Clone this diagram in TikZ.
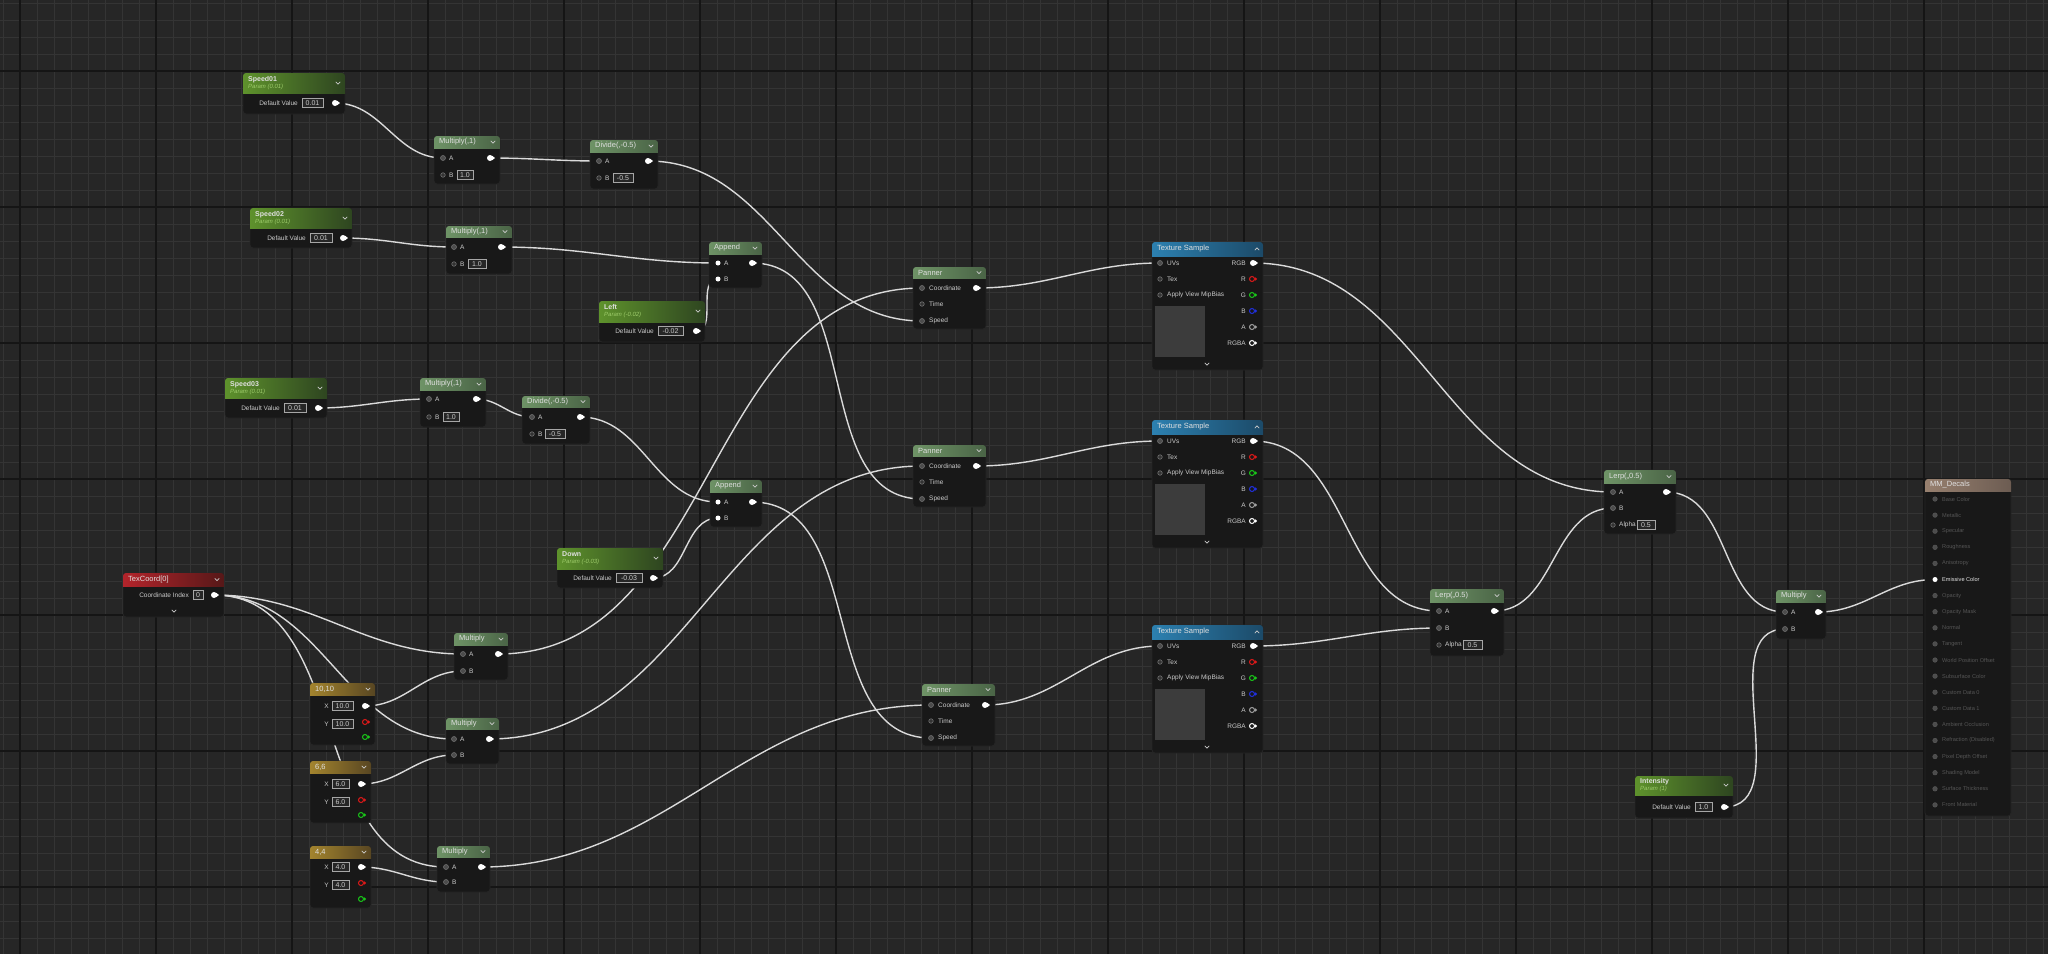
\documentclass[tikz,border=0pt]{standalone}
\usepackage{fontspec}
\setmainfont{Liberation Sans}
\usetikzlibrary{calc}
\definecolor{bgc}{HTML}{262626}
\definecolor{gmin}{HTML}{343434}
\definecolor{gmaj}{HTML}{151515}
\definecolor{bodyc}{HTML}{181818}
\definecolor{hpL}{HTML}{5E922C}
\definecolor{hpR}{HTML}{2E4520}
\definecolor{hmL}{HTML}{6E9366}
\definecolor{hmR}{HTML}{4A6446}
\definecolor{htL}{HTML}{2C80B0}
\definecolor{htR}{HTML}{1C4A68}
\definecolor{hcL}{HTML}{B3242B}
\definecolor{hcR}{HTML}{561818}
\definecolor{hkL}{HTML}{A3842E}
\definecolor{hkR}{HTML}{584622}
\definecolor{hoL}{HTML}{97806F}
\definecolor{hoR}{HTML}{6C5C52}
\definecolor{psub}{HTML}{9DCB6A}
\definecolor{lblc}{HTML}{CACACA}
\definecolor{wirec}{HTML}{DADADA}
\definecolor{pinc}{HTML}{4C4C4C}
\definecolor{pinr}{HTML}{707070}
\definecolor{dimc}{HTML}{555555}
\definecolor{prevc}{HTML}{3C3C3C}
\definecolor{ured}{HTML}{E01818}
\definecolor{ugreen}{HTML}{18C818}
\definecolor{ublue}{HTML}{2030E0}
\definecolor{ugrey}{HTML}{A0A0A0}

\pgfdeclarelayer{bg}\pgfdeclarelayer{wires}\pgfsetlayers{bg,wires,main}
\newcounter{lbc}

\tikzset{
 nbody/.style={draw=black!85, fill=bodyc, rounded corners=3pt, inner sep=0pt, outer sep=0pt, line width=.8pt},
 htitle/.style={inner sep=0pt, align=left, text=white!88!black, font=\fontsize{7.5}{8.5}\selectfont},
 lbl/.style={inner sep=0pt, text=lblc, font=\fontsize{6.5}{7.5}\selectfont},
 vb/.style={draw=white!65!black, line width=.5pt, fill=black!85, minimum height=9pt, inner sep=0pt, text=lblc, font=\fontsize{7}{8}\selectfont},
 pcon/.style={circle, fill=pinc, draw=pinr, line width=.6pt, minimum size=5pt, inner sep=0pt},
 popen/.style={circle, fill=black!80, draw=pinr, line width=.6pt, minimum size=4.5pt, inner sep=0pt},
 pwhite/.style={circle, fill=white, minimum size=5pt, inner sep=0pt},
 poutst/.style={circle, fill=white, minimum size=6pt, inner sep=0pt},
 pringst/.style={circle, line width=1pt, fill=bodyc, minimum size=5pt, inner sep=0pt},
 chv/.style={line width=.7pt, draw=white!80!black},
 wire/.style={draw=wirec, line width=1.4pt, out=0, in=180},
 hparam/.style={left color=hpL, right color=hpR},
 hmath/.style={left color=hmL, right color=hmR},
 htex/.style={left color=htL, right color=htR},
 hcoord/.style={left color=hcL, right color=hcR},
 hconst/.style={left color=hkL, right color=hkR},
 hout/.style={left color=hoL, right color=hoR},
}

\newcommand\uenode[8]{%
 \node[nbody, minimum width=#4pt, minimum height=#5pt, anchor=north west] (#1) at (#2,#3) {};
 \begin{scope}
  \clip[rounded corners=3pt] (#2,#3) rectangle ++(#4,#5);
  \shade[#7] (#2,#3) rectangle ++(#4,#6);
 \end{scope}
 \node[htitle, anchor=west] (#1-t) at (#2+5,#3+#6/2) {#8};
}
\newcommand\ptl[2]{{\fontsize{7}{8}\selectfont\textbf{#1}}\\[-1.5pt]{\color{psub}\itshape\fontsize{6}{7}\selectfont #2}}
\newcommand\chevd[2]{\draw[chv] (#1-2.2,#2-1.2) -- (#1,#2+1.2) -- (#1+2.2,#2-1.2);}
\newcommand\chevu[2]{\draw[chv] (#1-2.2,#2+1.2) -- (#1,#2-1.2) -- (#1+2.2,#2+1.2);}
\newcommand\ulbl[4]{\stepcounter{lbc}\node[lbl, anchor=#1] (lb\arabic{lbc}) at (#2,#3) {#4};}
\newcommand\uval[4]{\pgfmathsetmacro\ubw{#2-#1}\pgfmathsetmacro\ubx{(#1+#2)/2}\stepcounter{lbc}\node[vb, minimum width=\ubw pt] (vb\arabic{lbc}) at (\ubx,#3) {#4};}
\newcommand\upin[4]{\node[#1] (#2) at (#3,#4) {};}
\newcommand\upout[3]{\node[poutst] (#1) at (#2,#3) {};\fill[white] (#2+2.2,#3-2.2) -- (#2+5,#3) -- (#2+2.2,#3+2.2) -- cycle;}
\newcommand\upring[4]{\node[pringst, draw=#4] (#1) at (#2,#3) {};\fill[#4] (#2+3,#3-1.8) -- (#2+5.2,#3) -- (#2+3,#3+1.8) -- cycle;}

\newcommand\panner[3]{%
 \uenode{#1}{#2}{#3}{73}{62}{11}{hmath}{Panner}\chevd{#2+66}{#3+5.5}
 \upin{pcon}{#1-c}{#2+9}{#3+21}\ulbl{west}{#2+16}{#3+21}{Coordinate}\upout{#1-o}{#2+63}{#3+21}
 \upin{popen}{#1-t}{#2+9}{#3+37}\ulbl{west}{#2+16}{#3+37}{Time}
 \upin{pcon}{#1-s}{#2+9}{#3+54}\ulbl{west}{#2+16}{#3+54}{Speed}
}
\newcommand\tsnode[2]{%
 \uenode{#1}{1152}{#2}{111}{128}{14}{htex}{Texture Sample}
 \chevu{1257}{#2+7}
 \upin{pcon}{#1-uv}{1160}{#2+21}\ulbl{west}{1167}{#2+21}{UVs}
 \upin{popen}{#1-tx}{1160}{#2+37}\ulbl{west}{1167}{#2+37}{Tex}
 \upin{popen}{#1-mb}{1160}{#2+53}\ulbl{west}{1167}{#2+53}{Apply View MipBias}
 \upout{#1-o}{1253}{#2+21}\ulbl{east}{1246}{#2+21}{RGB}
 \upring{#1-r}{1252}{#2+37}{ured}\ulbl{east}{1246}{#2+37}{R}
 \upring{#1-g}{1252}{#2+53}{ugreen}\ulbl{east}{1246}{#2+53}{G}
 \upring{#1-b}{1252}{#2+69}{ublue}\ulbl{east}{1246}{#2+69}{B}
 \upring{#1-al}{1252}{#2+85}{ugrey}\ulbl{east}{1246}{#2+85}{A}
 \upring{#1-rgba}{1252}{#2+101}{white}\ulbl{east}{1246}{#2+101}{RGBA}
 \fill[prevc] (1155,#2+64) rectangle (1205,#2+115);
 \chevd{1207}{#2+122}
}

\begin{document}
\begin{tikzpicture}[x=1pt,y=-1pt]
\useasboundingbox (0,0) rectangle (2048,954);
\begin{pgfonlayer}{bg}
\fill[bgc] (0,0) rectangle (2048,954);
\foreach \i in {0,...,120} \draw[gmin, line width=.9pt] (3+17*\i,0) -- (3+17*\i,954);
\foreach \i in {0,...,55} \draw[gmin, line width=.9pt] (0,3+17*\i) -- (2048,3+17*\i);
\foreach \i in {0,...,14} \draw[gmaj, line width=1.8pt] (20+136*\i,0) -- (20+136*\i,954);
\foreach \i in {0,...,6} \draw[gmaj, line width=1.8pt] (0,71+136*\i) -- (2048,71+136*\i);
\end{pgfonlayer}

% ---- scalar parameters
\uenode{sp1}{243}{73}{102}{41}{20}{hparam}{\ptl{Speed01}{Param (0.01)}}\chevd{338}{83}
\ulbl{east}{298}{103}{Default Value}\uval{302}{323}{103}{0.01}\upout{sp1-o}{335}{103}

\uenode{sp2}{250}{208}{102}{40}{20}{hparam}{\ptl{Speed02}{Param (0.01)}}\chevd{345}{218}
\ulbl{east}{306}{238}{Default Value}\uval{310}{332}{238}{0.01}\upout{sp2-o}{343}{238}

\uenode{sp3}{225}{378}{102}{40}{20}{hparam}{\ptl{Speed03}{Param (0.01)}}\chevd{320}{388}
\ulbl{east}{280}{408}{Default Value}\uval{284}{306}{408}{0.01}\upout{sp3-o}{318}{408}

\uenode{lf}{599}{301}{106}{41}{21}{hparam}{\ptl{Left}{Param (-0.02)}}\chevd{698}{311}
\ulbl{east}{654}{331}{Default Value}\uval{658}{683}{331}{-0.02}\upout{lf-o}{696}{331}

\uenode{dn}{557}{548}{106}{40}{21}{hparam}{\ptl{Down}{Param (-0.03)}}\chevd{656}{558}
\ulbl{east}{612}{578}{Default Value}\uval{616}{642}{578}{-0.03}\upout{dn-o}{653}{578}

\uenode{int}{1635}{776}{98}{42}{19}{hparam}{\ptl{Intensity}{Param (1)}}\chevd{1726}{785}
\ulbl{east}{1691}{807}{Default Value}\uval{1695}{1712}{807}{1.0}\upout{int-o}{1724}{807}

% ---- math nodes
\uenode{m1}{434}{136}{66}{48}{12}{hmath}{Multiply(,1)}\chevd{493}{142}
\upin{pcon}{m1-a}{443}{158}\ulbl{west}{449}{158}{A}\upout{m1-o}{490}{158}
\upin{popen}{m1-b}{443}{175}\ulbl{west}{449}{175}{B}\uval{457}{473}{175}{1.0}

\uenode{d1}{590}{140}{68}{49}{12}{hmath}{Divide(,-0.5)}\chevd{651}{146}
\upin{pcon}{d1-a}{599}{161}\ulbl{west}{605}{161}{A}\upout{d1-o}{648}{161}
\upin{popen}{d1-b}{599}{178}\ulbl{west}{605}{178}{B}\uval{613}{633}{178}{-0.5}

\uenode{m2}{446}{226}{66}{48}{11}{hmath}{Multiply(,1)}\chevd{505}{231.5}
\upin{pcon}{m2-a}{454}{247}\ulbl{west}{460}{247}{A}\upout{m2-o}{501}{247}
\upin{popen}{m2-b}{454}{264}\ulbl{west}{460}{264}{B}\uval{468}{486}{264}{1.0}

\uenode{a1}{709}{242}{53}{46}{12}{hmath}{Append}\chevd{755}{248}
\upin{pwhite}{a1-a}{718}{263}\ulbl{west}{724}{263}{A}\upout{a1-o}{752}{263}
\upin{pwhite}{a1-b}{718}{279}\ulbl{west}{724}{279}{B}

\uenode{m3}{420}{378}{66}{49}{12}{hmath}{Multiply(,1)}\chevd{479}{384}
\upin{pcon}{m3-a}{429}{399}\ulbl{west}{435}{399}{A}\upout{m3-o}{476}{399}
\upin{popen}{m3-b}{429}{417}\ulbl{west}{435}{417}{B}\uval{443}{459}{417}{1.0}

\uenode{d2}{522}{396}{68}{48}{11}{hmath}{Divide(,-0.5)}\chevd{583}{401.5}
\upin{pcon}{d2-a}{532}{417}\ulbl{west}{538}{417}{A}\upout{d2-o}{580}{417}
\upin{popen}{d2-b}{532}{434}\ulbl{west}{538}{434}{B}\uval{545}{565}{434}{-0.5}

\uenode{a2}{710}{480}{52}{47}{12}{hmath}{Append}\chevd{755}{486}
\upin{pwhite}{a2-a}{718}{502}\ulbl{west}{724}{502}{A}\upout{a2-o}{752}{502}
\upin{pwhite}{a2-b}{718}{518}\ulbl{west}{724}{518}{B}

% ---- texcoord and constants
\uenode{tc}{123}{573}{101}{44}{13}{hcoord}{TexCoord[0]}\chevd{217}{579.5}
\ulbl{east}{189}{595}{Coordinate Index}\uval{193}{203}{595}{0}\upout{tc-o}{214}{595}\chevd{174}{611}

\uenode{c10}{310}{683}{65}{62}{12}{hconst}{10,10}\chevd{368}{689}
\ulbl{east}{329}{706}{X}\uval{332}{353}{706}{10.0}\upout{c10-o}{365}{706}
\ulbl{east}{329}{724}{Y}\uval{332}{353}{724}{10.0}\upring{c10-r}{365}{722}{ured}
\upring{c10-g}{365}{737}{ugreen}

\uenode{c6}{310}{761}{61}{62}{12}{hconst}{6,6}\chevd{364}{767}
\ulbl{east}{329}{784}{X}\uval{332}{349}{784}{6.0}\upout{c6-o}{361}{784}
\ulbl{east}{329}{802}{Y}\uval{332}{349}{802}{6.0}\upring{c6-r}{361}{800}{ured}
\upring{c6-g}{361}{815}{ugreen}

\uenode{c4}{310}{846}{61}{62}{12}{hconst}{4,4}\chevd{364}{852}
\ulbl{east}{329}{867}{X}\uval{332}{349}{867}{4.0}\upout{c4-o}{361}{867}
\ulbl{east}{329}{885}{Y}\uval{332}{349}{885}{4.0}\upring{c4-r}{361}{883}{ured}
\upring{c4-g}{361}{899}{ugreen}

\uenode{mt}{454}{633}{54}{47}{12}{hmath}{Multiply}\chevd{501}{639}
\upin{pcon}{mt-a}{463}{654}\ulbl{west}{469}{654}{A}\upout{mt-o}{498}{654}
\upin{pcon}{mt-b}{463}{671}\ulbl{west}{469}{671}{B}

\uenode{mm}{446}{718}{53}{46}{11}{hmath}{Multiply}\chevd{492}{723.5}
\upin{pcon}{mm-a}{454}{739}\ulbl{west}{460}{739}{A}\upout{mm-o}{489}{739}
\upin{pcon}{mm-b}{454}{755}\ulbl{west}{460}{755}{B}

\uenode{mb}{437}{846}{53}{46}{11}{hmath}{Multiply}\chevd{483}{851.5}
\upin{pcon}{mb-a}{446}{867}\ulbl{west}{452}{867}{A}\upout{mb-o}{481}{867}
\upin{pcon}{mb-b}{446}{882}\ulbl{west}{452}{882}{B}

% ---- panners and textures
\panner{p1}{913}{267}
\panner{p2}{913}{445}
\panner{p3}{922}{684}
\tsnode{t1}{242}
\tsnode{t2}{420}
\tsnode{t3}{625}

% ---- lerps, final multiply
\uenode{l1}{1604}{470}{72}{64}{13}{hmath}{Lerp(,,0.5)}\chevd{1669}{476.5}
\upin{pcon}{l1-a}{1613}{492}\ulbl{west}{1619}{492}{A}\upout{l1-o}{1666}{492}
\upin{pcon}{l1-b}{1613}{508}\ulbl{west}{1619}{508}{B}
\upin{popen}{l1-al}{1613}{525}\ulbl{west}{1619}{525}{Alpha}\uval{1637}{1655}{525}{0.5}

\uenode{l2}{1430}{589}{74}{67}{13}{hmath}{Lerp(,,0.5)}\chevd{1497}{595.5}
\upin{pcon}{l2-a}{1439}{611}\ulbl{west}{1445}{611}{A}\upout{l2-o}{1494}{611}
\upin{pcon}{l2-b}{1439}{628}\ulbl{west}{1445}{628}{B}
\upin{popen}{l2-al}{1439}{645}\ulbl{west}{1445}{645}{Alpha}\uval{1463}{1482}{645}{0.5}

\uenode{mf}{1776}{590}{50}{49}{12}{hmath}{Multiply}\chevd{1819}{596}
\upin{pcon}{mf-a}{1785}{612}\ulbl{west}{1791}{612}{A}\upout{mf-o}{1818}{612}
\upin{pcon}{mf-b}{1785}{629}\ulbl{west}{1791}{629}{B}

% ---- material output
\uenode{mat}{1925}{479}{86}{337}{12}{hout}{MM\_Decals}
\foreach \t [count=\k from 0] in {Base Color,Metallic,Specular,Roughness,Anisotropy,Emissive Color,Opacity,Opacity Mask,Normal,Tangent,World Position Offset,Subsurface Color,Custom Data 0,Custom Data 1,Ambient Occlusion,Refraction (Disabled),Pixel Depth Offset,Shading Model,Surface Thickness,Front Material}{
  \ifnum\k=5\relax
  \else
   \node[popen, draw=dimc, fill=black!70] (mat-p\k) at (1935,499+16.1*\k) {};
   \node[lbl, anchor=west, text=dimc, font=\fontsize{5.6}{6.5}\selectfont] (mat-l\k) at (1942,499+16.1*\k) {\t};
  \fi
}
\upin{pwhite}{mat-em}{1935}{579.5}
\node[lbl, anchor=west, text=white!90!black, font=\fontsize{5.6}{6.5}\selectfont] (mat-lem) at (1942,579.5) {Emissive Color};

% ---- wires
\begin{pgfonlayer}{wires}
\foreach \a/\b in {sp1-o/m1-a, m1-o/d1-a, d1-o/p1-s, sp2-o/m2-a, m2-o/a1-a, lf-o/a1-b, a1-o/p2-s,
  sp3-o/m3-a, m3-o/d2-a, d2-o/a2-a, dn-o/a2-b, a2-o/p3-s,
  tc-o/mt-a, tc-o/mm-a, tc-o/mb-a, c10-o/mt-b, c6-o/mm-b, c4-o/mb-b,
  mt-o/p1-c, mm-o/p2-c, mb-o/p3-c, p1-o/t1-uv, p2-o/t2-uv, p3-o/t3-uv,
  t1-o/l1-a, t2-o/l2-a, t3-o/l2-b, l2-o/l1-b, l1-o/mf-a, int-o/mf-b, mf-o/mat-em}
  \draw[wire] (\a.center) to (\b.center);
\end{pgfonlayer}
\end{tikzpicture}
\end{document}
